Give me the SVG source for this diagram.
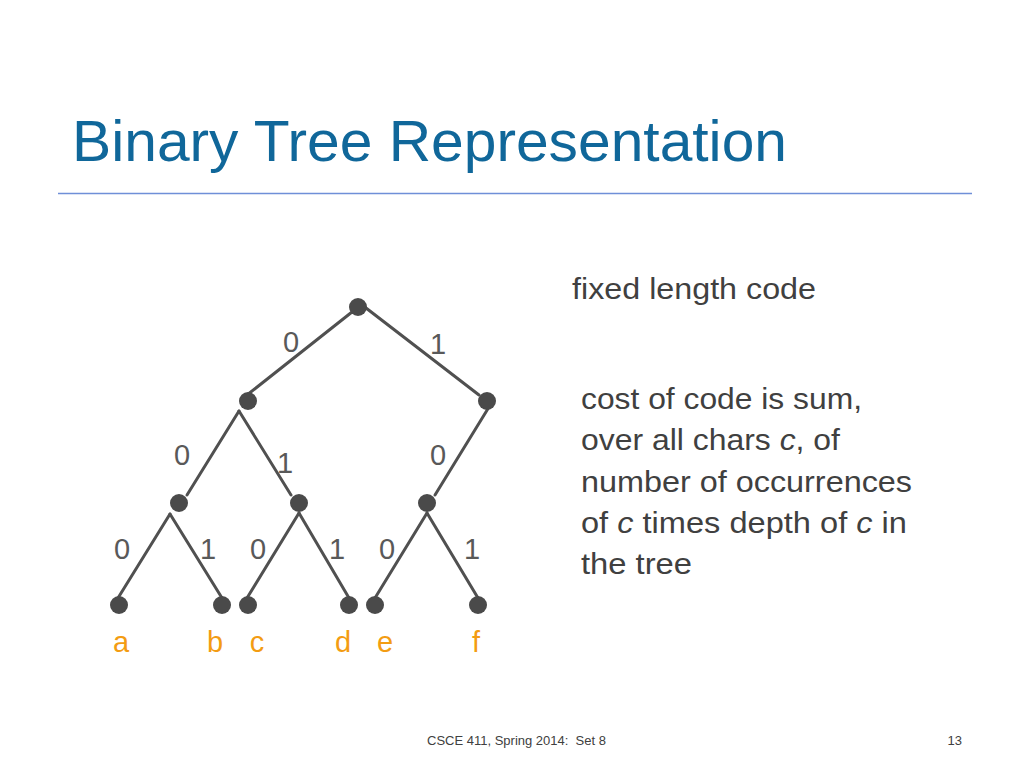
<svg xmlns="http://www.w3.org/2000/svg" width="1024" height="768" viewBox="0 0 1024 768">
<style>
.edge{stroke:#505050;stroke-width:3;stroke-linecap:round;fill:none}
.dot{fill:#4a4a4a}
.bit{font-family:"Liberation Sans",Arial,sans-serif;font-size:29px;fill:#595959;text-anchor:middle}
.leaf{font-family:"Liberation Sans",Arial,sans-serif;font-size:29px;fill:#F39C12;text-anchor:middle}
.body{font-family:"Liberation Sans",Arial,sans-serif;font-size:29px;fill:#404040}
.foot{font-family:"Liberation Sans",Arial,sans-serif;font-size:13px;fill:#404040;white-space:pre}
</style>
<rect width="1024" height="768" fill="#ffffff"/>
<text x="72" y="161" font-family="Liberation Sans,Arial,sans-serif" font-size="57" fill="#10679A" textLength="715" lengthAdjust="spacingAndGlyphs">Binary Tree Representation</text>
<line x1="58" y1="193.5" x2="972" y2="193.5" stroke="#6F8FD8" stroke-width="1.5"/>

<g id="connectors">
<line class="edge" x1="352" y1="312" x2="247" y2="395"/>
<line class="edge" x1="366" y1="308" x2="479" y2="395"/>
<line class="edge" x1="239" y1="411" x2="187" y2="495"/>
<line class="edge" x1="239" y1="411" x2="291" y2="495"/>
<line class="edge" x1="489" y1="407" x2="435" y2="495"/>
<line class="edge" x1="170" y1="514" x2="118" y2="598"/>
<line class="edge" x1="170" y1="514" x2="222" y2="598"/>
<line class="edge" x1="299" y1="513" x2="247" y2="598"/>
<line class="edge" x1="299" y1="513" x2="349" y2="598"/>
<line class="edge" x1="427" y1="513" x2="375" y2="598"/>
<line class="edge" x1="427" y1="513" x2="478" y2="598"/>
</g>

<g id="edge-labels">
<text class="bit" x="291" y="352">0</text>
<text class="bit" x="438" y="354">1</text>
<text class="bit" x="182" y="465">0</text>
<text class="bit" x="285" y="473">1</text>
<text class="bit" x="438" y="465">0</text>
<text class="bit" x="122" y="559">0</text>
<text class="bit" x="208" y="559">1</text>
<text class="bit" x="258" y="559">0</text>
<text class="bit" x="337" y="559">1</text>
<text class="bit" x="387" y="559">0</text>
<text class="bit" x="472" y="559">1</text>
</g>

<g id="root"><circle class="dot" cx="358" cy="307" r="9"/></g>
<g id="n0"><circle class="dot" cx="248" cy="401" r="9"/></g>
<g id="n1"><circle class="dot" cx="487" cy="401" r="9"/></g>
<g id="n00"><circle class="dot" cx="179" cy="503" r="9"/></g>
<g id="n01"><circle class="dot" cx="299" cy="503" r="9"/></g>
<g id="n10"><circle class="dot" cx="427" cy="503" r="9"/></g>
<g id="leaf-a"><circle class="dot" cx="119" cy="605" r="9"/><text class="leaf" x="121" y="652">a</text></g>
<g id="leaf-b"><circle class="dot" cx="222" cy="605" r="9"/><text class="leaf" x="215" y="652">b</text></g>
<g id="leaf-c"><circle class="dot" cx="248" cy="605" r="9"/><text class="leaf" x="257" y="652">c</text></g>
<g id="leaf-d"><circle class="dot" cx="349" cy="605" r="9"/><text class="leaf" x="343" y="652">d</text></g>
<g id="leaf-e"><circle class="dot" cx="375" cy="605" r="9"/><text class="leaf" x="385" y="652">e</text></g>
<g id="leaf-f"><circle class="dot" cx="478" cy="605" r="9"/><text class="leaf" x="476" y="652">f</text></g>

<g id="notes">
<text class="body" x="572" y="299" textLength="244" lengthAdjust="spacingAndGlyphs">fixed length code</text>
<text class="body" x="581" y="409" textLength="281" lengthAdjust="spacingAndGlyphs">cost of code is sum,</text>
<text class="body" x="581" y="450" textLength="259" lengthAdjust="spacingAndGlyphs">over all chars <tspan font-style="italic">c</tspan>, of</text>
<text class="body" x="581" y="492" textLength="331" lengthAdjust="spacingAndGlyphs">number of occurrences</text>
<text class="body" x="581" y="533" textLength="326" lengthAdjust="spacingAndGlyphs">of <tspan font-style="italic">c</tspan> times depth of <tspan font-style="italic">c</tspan> in</text>
<text class="body" x="581" y="574" textLength="111" lengthAdjust="spacingAndGlyphs">the tree</text>
</g>

<text class="foot" x="427" y="745" xml:space="preserve">CSCE 411, Spring 2014:  Set 8</text>
<text class="foot" x="962" y="745" text-anchor="end">13</text>
</svg>
